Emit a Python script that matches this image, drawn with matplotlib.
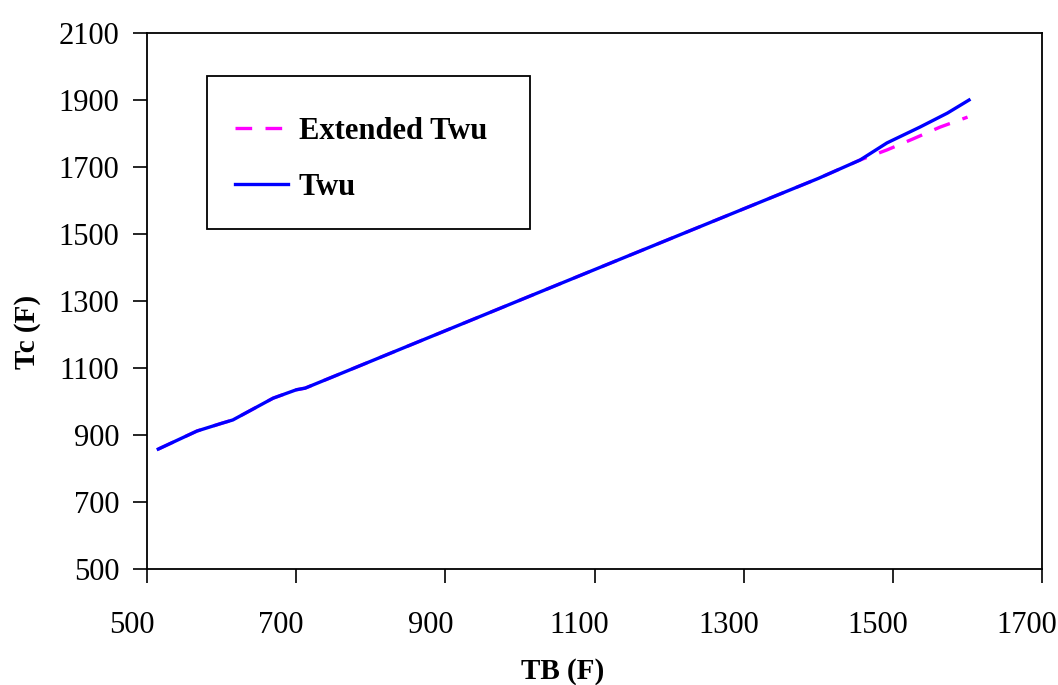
import matplotlib
matplotlib.use("Agg")
import matplotlib.pyplot as plt
import matplotlib.transforms as mtrans
from matplotlib.patches import Rectangle

plt.rcParams['font.family'] = ['Liberation Serif', 'DejaVu Serif']

# Twu correlation, TB (F) vs Tc (F)
tb_twu = [515, 567, 600, 615, 669, 700, 712, 1098, 1400, 1456, 1492, 1536, 1573, 1602]
tc_twu = [858, 912, 935, 945, 1010, 1035, 1040, 1392, 1666, 1721, 1772, 1819, 1861, 1900]

# Extended Twu, same as Twu up to ~1456 F then bends down
tb_ext = [515, 567, 600, 615, 669, 700, 712, 1098, 1400, 1456, 1492, 1527, 1563, 1600]
tc_ext = [858, 912, 935, 945, 1010, 1035, 1040, 1392, 1666, 1721, 1751, 1784, 1819, 1849]

xticks = [500, 700, 900, 1100, 1300, 1500, 1700]
yticks = [500, 700, 900, 1100, 1300, 1500, 1700, 1900, 2100]

fig = plt.figure(figsize=(10.58, 6.85), dpi=100)
ax = fig.add_axes([0.139, 0.1693, 0.846, 0.7825])

ax.plot(tb_ext, tc_ext, color='#ff00ff', lw=2.4, dashes=(5, 4), label='Extended Twu')
ax.plot(tb_twu, tc_twu, color='#0000ff', lw=2.4, label='Twu')

ax.set_xlim(500, 1700)
ax.set_ylim(500, 2100)
ax.set_xticks(xticks)
ax.set_yticks(yticks)
ax.tick_params(direction='out', length=10, width=1.2, labelsize=22, colors='black')
ax.tick_params(axis='x', pad=20)
ax.tick_params(axis='y', pad=10)
for s in ax.spines.values():
    s.set_linewidth(1.3)

# x tick labels sit a little left of their ticks in the original
shift = mtrans.ScaledTranslation(-15 / 100, 0, fig.dpi_scale_trans)
for lab in ax.get_xticklabels():
    lab.set_transform(lab.get_transform() + shift)

ax.set_xlabel('TB (F)', fontsize=21, fontweight='bold')
ax.set_ylabel('Tc (F)', fontsize=21, fontweight='bold')
ax.xaxis.set_label_coords(0.464, -0.192)
ax.yaxis.set_label_coords(-0.134, 0.442)
ax.xaxis.label.set_va('center')
ax.yaxis.label.set_va('center')

# legend box drawn by hand, legend itself without frame
ax.add_patch(Rectangle((0.067, 0.634), 0.361, 0.286, transform=ax.transAxes,
                       fill=False, edgecolor='black', lw=1.3, zorder=5))
leg = ax.legend(loc='upper left', bbox_to_anchor=(0.098, 0.843), frameon=False,
                prop={'size': 22, 'weight': 'bold'}, handlelength=1.75,
                handletextpad=0.35, labelspacing=0.88, borderpad=0, borderaxespad=0)

fig.savefig('out.png', dpi=100)
